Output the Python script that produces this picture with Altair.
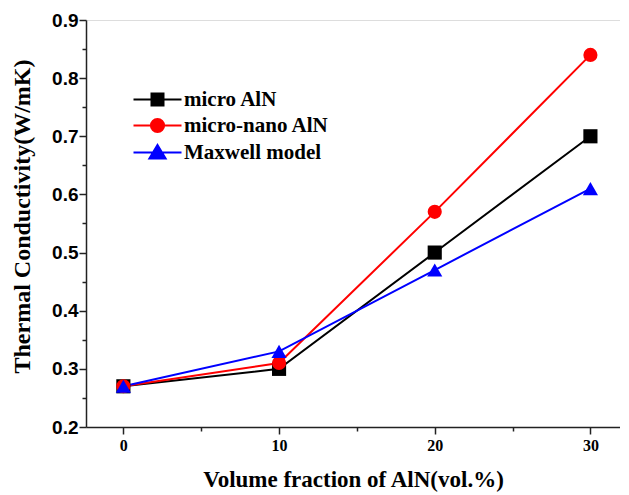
import altair as alt
import pandas as pd

volume = [0, 10, 20, 30]
series_names = ["micro AlN", "micro-nano AlN", "Maxwell model"]
micro = [0.27, 0.30, 0.50, 0.70]
micro_nano = [0.27, 0.31, 0.57, 0.84]
maxwell = [0.27, 0.33, 0.47, 0.61]
colors = ["#000000", "#ff0000", "#0000ff"]
shapes = ["square", "circle", "triangle-up"]
legend_paths = [
    "M-4,0L4,0M-1,-1L1,-1L1,1L-1,1Z",
    "M-4,0L4,0M1.1,0A1.1,1.1,0,1,1,-1.1,0A1.1,1.1,0,1,1,1.1,0Z",
    "M-4,0L4,0M0,-1.25L1.35,1L-1.35,1Z",
]
x_major = [0, 10, 20, 30]
x_minor = [5, 15, 25]
y_major = [0.2, 0.3, 0.4, 0.5, 0.6, 0.7, 0.8, 0.9]
y_minor = [0.25, 0.35, 0.45, 0.55, 0.65, 0.75, 0.85]

rows = []
for name, vals in zip(series_names, [micro, micro_nano, maxwell]):
    for xv, yv in zip(volume, vals):
        rows.append({"x": xv, "y": yv, "series": name})
df = pd.DataFrame(rows)

xscale = alt.Scale(domain=[-2.4, 31.9], nice=False, zero=False)
yscale = alt.Scale(domain=[0.2, 0.9], nice=False, zero=False)

axis_common = dict(domainColor="#222222", domainWidth=1.5, tickColor="#222222",
                   tickWidth=1.5, grid=False)

x_major_axis = alt.Axis(values=x_major, tickSize=7, orient="bottom",
                        labelFont="Liberation Serif", labelFontWeight="bold",
                        labelFontSize=16, labelColor="#000000", labelPadding=3,
                        title="Volume fraction of AlN(vol.%)", titleFont="Liberation Serif",
                        titleFontWeight="bold", titleFontSize=23, titleColor="#000000",
                        titlePadding=15, **axis_common)
x_minor_axis = alt.Axis(values=x_minor, tickSize=4, orient="bottom", labels=False,
                        domain=False, title=None, grid=False, tickColor="#222222",
                        tickWidth=1.5)
y_major_axis = alt.Axis(values=y_major, tickSize=7, orient="left", format=".1f",
                        labelFont="Liberation Sans", labelFontWeight="bold",
                        labelFontSize=19, labelColor="#000000", labelPadding=1,
                        title="Thermal Conductivity(W/mK)", titleFont="Liberation Serif",
                        titleFontWeight="bold", titleFontSize=24, titleColor="#000000",
                        titlePadding=17, titleY=196, **axis_common)
y_minor_axis = alt.Axis(values=y_minor, tickSize=4, orient="left", labels=False,
                        domain=False, title=None, grid=False, tickColor="#222222",
                        tickWidth=1.5)

base = alt.Chart(df)
layers = []
first = True
for name, c, s in zip(series_names, colors, shapes):
    sub = base.transform_filter(alt.datum.series == name)
    if first:
        xa, ya = x_major_axis, y_major_axis
    else:
        xa, ya = None, None
    line = sub.mark_line(color=c, strokeWidth=2).encode(
        x=alt.X("x:Q", scale=xscale, axis=xa),
        y=alt.Y("y:Q", scale=yscale, axis=ya),
    )
    layers.append(line)
    first = False
for name, c, s in zip(series_names, colors, shapes):
    sub = base.transform_filter(alt.datum.series == name)
    pt = sub.mark_point(shape=s, filled=True, color=c, size=200 if s != "triangle-up" else 230,
                        opacity=1).encode(
        x=alt.X("x:Q", scale=xscale, axis=None),
        y=alt.Y("y:Q", scale=yscale, axis=None),
    )
    layers.append(pt)

leg = dict(orient="none", legendX=61, legendY=69, title=None,
           labelFont="Liberation Serif", labelFontWeight="bold", labelFontSize=21,
           labelColor="#000000", symbolSize=144, symbolStrokeWidth=2, labelOffset=16,
           rowPadding=4)
legend_layer = base.transform_filter("false").mark_point(filled=True, opacity=1, strokeWidth=2).encode(
    x=alt.X("x:Q", scale=xscale, axis=x_minor_axis),
    y=alt.Y("y:Q", scale=yscale, axis=y_minor_axis),
    shape=alt.Shape("series:N", scale=alt.Scale(domain=series_names, range=legend_paths),
                    legend=alt.Legend(**leg)),
    fill=alt.Fill("series:N", scale=alt.Scale(domain=series_names, range=colors),
                  legend=alt.Legend(**leg)),
    stroke=alt.Stroke("series:N", scale=alt.Scale(domain=series_names, range=colors),
                      legend=alt.Legend(**leg)),
)
layers.append(legend_layer)

chart = alt.layer(*layers).resolve_axis(x="independent", y="independent").properties(
    width=534, height=407,
    autosize=alt.AutoSizeParams(type="none"),
    padding={"left": 78, "top": 12, "right": 0, "bottom": 67},
).configure_view(stroke=None).configure(background="white")

chart.save("out.html", embed_options={"renderer": "svg", "actions": False})
